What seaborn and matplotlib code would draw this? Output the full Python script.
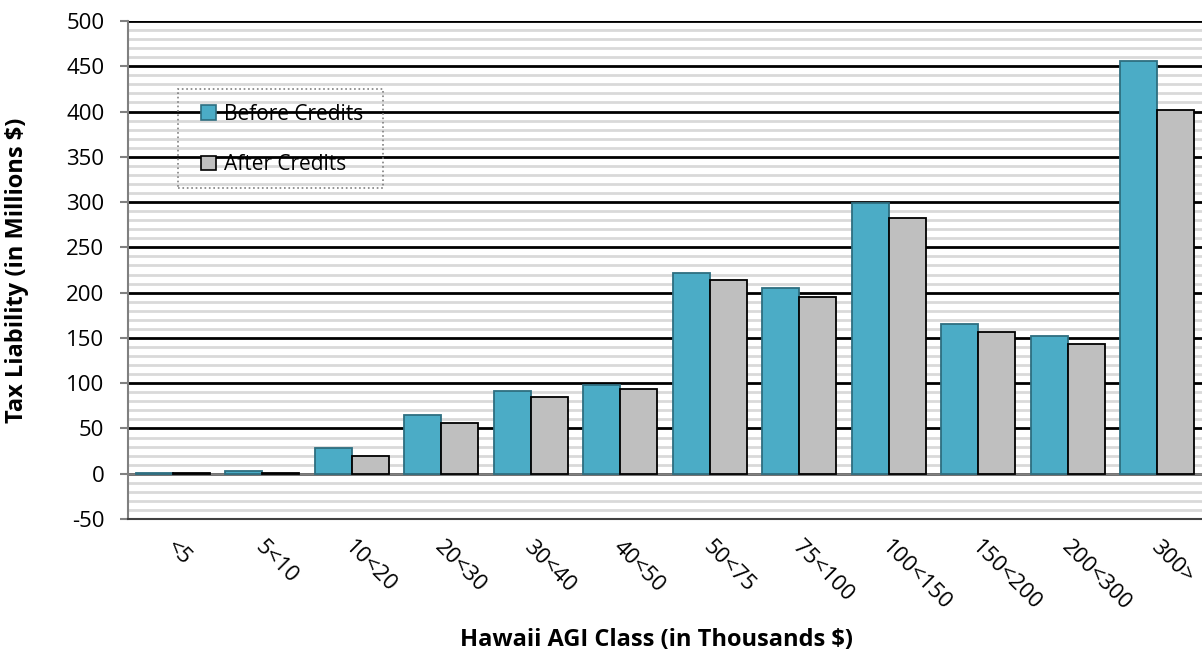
import numpy as np
import pandas as pd
import matplotlib
matplotlib.use('Agg')
import matplotlib.pyplot as plt
import matplotlib.patches as mpatches
import matplotlib.transforms as mtrans
import seaborn as sns
from matplotlib.ticker import MultipleLocator

# data (millions $)
agi_class = ['<5', '5<10', '10<20', '20<30', '30<40', '40<50', '50<75',
             '75<100', '100<150', '150<200', '200<300', '300>']
before_credits = [0.6, 3.3, 28.4, 65, 91.5, 97.5, 222, 205.5, 299, 165.5, 152, 455.5]
after_credits = [0.3, 0.6, 19.1, 56, 85, 93.5, 213.5, 195.5, 282, 157, 143, 402]
series = ['Before Credits', 'After Credits']

df = pd.DataFrame({
    'agi': agi_class * 2,
    'value': before_credits + after_credits,
    'series': [series[0]] * len(agi_class) + [series[1]] * len(agi_class),
})

sns.set_style('white')
plt.rcParams['font.family'] = ['Open Sans', 'DejaVu Sans']
plt.rcParams['axes.unicode_minus'] = False
plt.rcParams['text.color'] = 'black'
plt.rcParams['axes.labelcolor'] = 'black'
plt.rcParams['xtick.color'] = 'black'
plt.rcParams['ytick.color'] = 'black'

W, H = 1202, 660
fig = plt.figure(figsize=(W / 100, H / 100), dpi=100)
ax = fig.add_axes([128 / W, (H - 519) / H, 1074 / W, 498 / H])

palette = {'Before Credits': '#4BACC6', 'After Credits': '#BFBFBF'}
sns.barplot(data=df, x='agi', y='value', hue='series', palette=palette,
            width=0.83, saturation=1, ax=ax, zorder=3, legend=False)

edge = {'Before Credits': '#2E6E80', 'After Credits': '#000000'}
for cont, name in zip(ax.containers, series):
    for b in cont:
        b.set_edgecolor(edge[name])
        b.set_linewidth(1.3)

ax.set_ylim(-50, 500)
ax.set_xlim(-0.5, len(agi_class) - 0.5)
ax.yaxis.set_major_locator(MultipleLocator(50))
ax.yaxis.set_minor_locator(MultipleLocator(10))
ax.grid(which='minor', axis='y', color='#D9D9D9', linewidth=2, zorder=0)
ax.grid(which='major', axis='y', color='black', linewidth=2, zorder=1)
ax.axhline(0, color='#808080', linewidth=2, zorder=2)
ax.set_axisbelow(True)

for s in ['top', 'right']:
    ax.spines[s].set_visible(False)
ax.spines['left'].set_color('#808080')
ax.spines['left'].set_linewidth(1.5)
ax.spines['bottom'].set_color('#404040')
ax.spines['bottom'].set_linewidth(1.5)

ax.tick_params(axis='y', which='major', left=True, length=6, width=1.5,
               color='#808080', labelsize=16, pad=11)
ax.tick_params(axis='y', which='minor', left=False)
ax.tick_params(axis='x', bottom=False, labelsize=16, pad=9)
shift = mtrans.ScaledTranslation(4 / 100, 0, fig.dpi_scale_trans)
for lab in ax.get_xticklabels():
    lab.set_rotation(-45)
    lab.set_ha('left')
    lab.set_va('top')
    lab.set_rotation_mode('anchor')
    lab.set_transform(lab.get_transform() + shift)

ax.set_xlabel('Hawaii AGI Class (in Thousands $)', fontsize=17, fontweight='bold')
ax.xaxis.set_label_coords(0.492, (519 - 628) / 498)
ax.set_ylabel('Tax Liability (in Millions $)', fontsize=17, fontweight='bold')
ax.yaxis.set_label_coords(-0.092, 0.5)

# legend: handles/text, plus a dotted frame like the reference
handles = [mpatches.Patch(facecolor=palette[s], edgecolor=edge[s], linewidth=1.2) for s in series]
leg = fig.legend(handles, series, loc='upper left', bbox_to_anchor=(201 / W, 1 - 104 / H),
                 bbox_transform=fig.transFigure, fontsize=15, frameon=False,
                 handlelength=0.7, handleheight=0.7, handletextpad=0.4,
                 labelspacing=1.4, borderpad=0, borderaxespad=0)
frame = mpatches.Rectangle((178 / W, 1 - 188 / H), 205 / W, 99 / H, transform=fig.transFigure,
                           facecolor='none', edgecolor='#808080', linestyle=':', linewidth=1.2)
fig.patches.append(frame)

fig.savefig('out.png', dpi=100)
